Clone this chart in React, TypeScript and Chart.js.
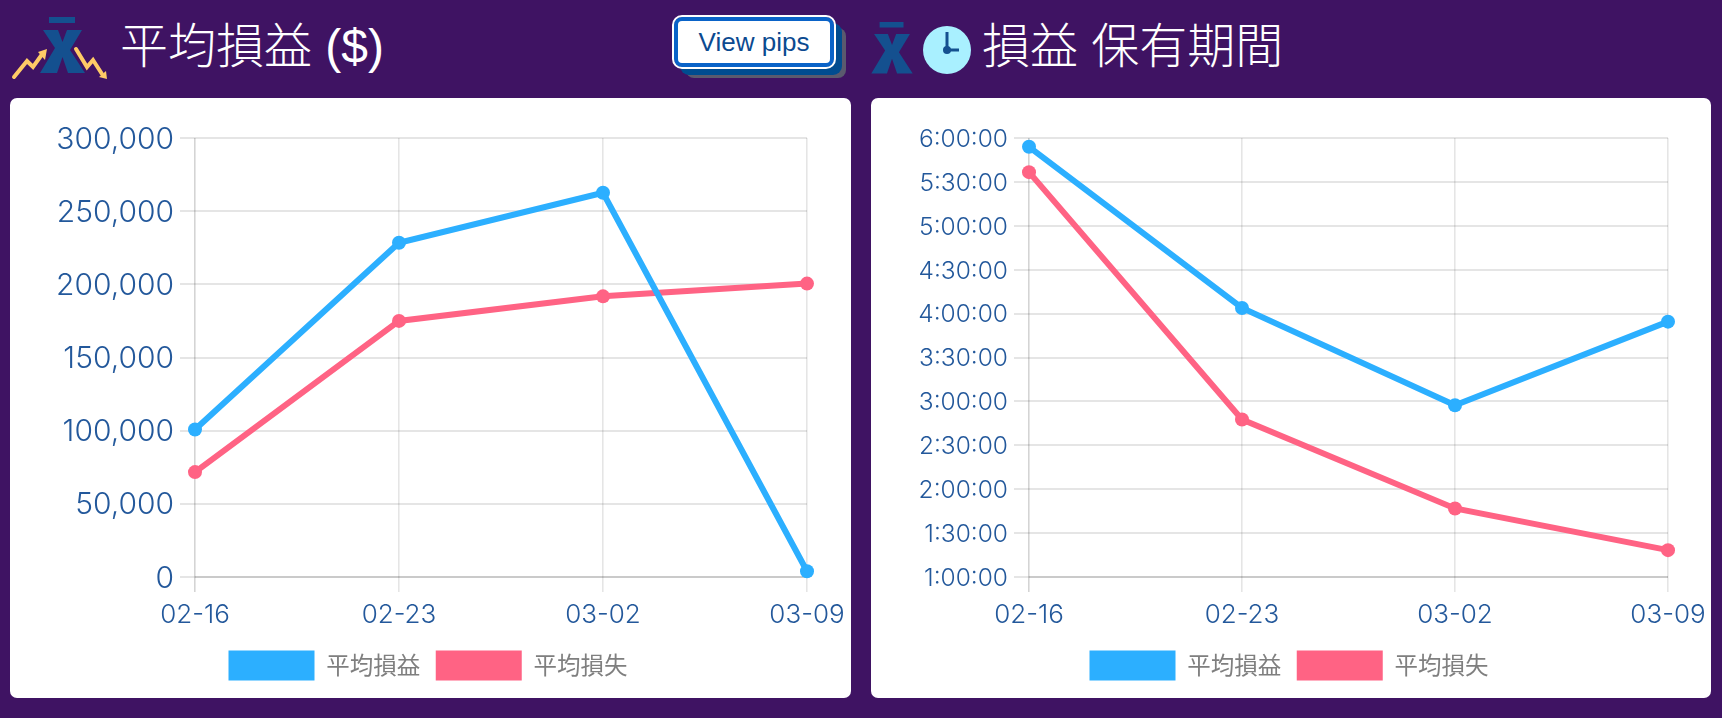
import React, { useEffect, useRef } from "react";
import { Chart, registerables } from "chart.js";

Chart.register(...registerables);

const weeks = ["02-16", "02-23", "03-02", "03-09"];
const profitLabel = "平均損益";
const lossLabel = "平均損失";
const avgProfit = [100800, 228400, 262600, 3900];
const avgLoss = [71700, 175000, 191800, 200500];
const holdProfitSec = [21240, 14630, 10640, 14070];
const holdLossSec = [20200, 10060, 6410, 4700];

const BLUE = "#2CAFFF";
const PINK = "#FF6384";
const TICK = "#23589B";
const CJK = '"Noto Sans CJK JP", "Noto Sans", sans-serif';
const LATIN = 'Inter, "Noto Sans", sans-serif';

const fmtTime = (v: number) => {
  const h = Math.floor(v / 3600);
  const m = Math.floor((v % 3600) / 60);
  return `${h}:${String(m).padStart(2, "0")}:00`;
};

type Cfg = {
  a: number[];
  b: number[];
  yMin: number;
  yMax: number;
  step: number;
  yFont: number;
  yWidth: number;
  right: number;
  fmt: (v: number) => string;
};

function LineChart({ cfg, style }: { cfg: Cfg; style: React.CSSProperties }) {
  const ref = useRef<HTMLCanvasElement>(null);
  useEffect(() => {
    const ds = (label: string, data: number[], color: string) => ({
      label,
      data,
      borderColor: color,
      backgroundColor: color,
      borderWidth: 6,
      pointRadius: 7,
      pointBorderWidth: 0,
      pointBackgroundColor: color,
      tension: 0,
      fill: false,
      clip: false as const,
    });
    const chart = new Chart(ref.current!, {
      type: "line",
      data: { labels: weeks, datasets: [ds(profitLabel, cfg.a, BLUE), ds(lossLabel, cfg.b, PINK)] },
      options: {
        animation: false,
        responsive: false,
        devicePixelRatio: 1,
        layout: { padding: { top: 40, right: cfg.right, bottom: 7.5, left: 0 } },
        plugins: {
          tooltip: { enabled: false },
          legend: {
            position: "bottom",
            labels: {
              boxWidth: 86,
              boxHeight: 30,
              padding: 15.5,
              color: "#7F7F7F",
              font: { family: CJK, size: 23.5 },
              generateLabels: (c: Chart) =>
                Chart.defaults.plugins.legend.labels.generateLabels(c).map((l: any) => ({ ...l, lineWidth: 0 })),
            },
          },
        },
        scales: {
          x: {
            type: "category",
            afterFit: (s: any) => {
              s.height = 58;
              s.paddingLeft = 0;
              s.paddingRight = 0;
            },
            grid: {
              color: (c: any) => (c.index === 0 ? "rgba(0,0,0,0.17)" : "rgba(0,0,0,0.1)"),
              lineWidth: 1.6,
              tickLength: 15,
            },
            border: { display: false },
            ticks: {
              color: TICK,
              padding: 8,
              maxRotation: 0,
              font: { family: LATIN, size: 26, weight: "300" },
            },
          },
          y: {
            min: cfg.yMin,
            max: cfg.yMax,
            afterFit: (s: any) => {
              s.width = cfg.yWidth;
            },
            grid: {
              color: "rgba(0,0,0,0.1)",
              lineWidth: 2,
              tickLength: 15,
            },
            border: { display: false },
            ticks: {
              color: TICK,
              padding: 6,
              labelOffset: 1.5,
              stepSize: cfg.step,
              autoSkip: false,
              font: { family: LATIN, size: cfg.yFont, weight: "300" },
              callback: (v: any) => cfg.fmt(Number(v)),
            },
          },
        },
      },
      plugins: [
        {
          id: "legendAndBaseline",
          afterLayout: (c: any) => {
            // the legend sits centred on the card's inner width, not on the padded box
            const shift = 19.5;
            c.legend.left += shift;
            c.legend.right += shift;
          },
          beforeDatasetsDraw: (c: Chart) => {
            const { ctx, chartArea } = c;
            ctx.save();
            ctx.strokeStyle = "rgba(0,0,0,0.12)";
            ctx.lineWidth = 2;
            ctx.beginPath();
            ctx.moveTo(chartArea.left, chartArea.bottom);
            ctx.lineTo(chartArea.right, chartArea.bottom);
            ctx.stroke();
            ctx.restore();
          },
        },
      ],
    } as any);
    return () => chart.destroy();
  }, []);
  const w = style.width as number;
  const h = style.height as number;
  return (
    <div style={{ position: "absolute", background: "#fff", borderRadius: 7, ...style }}>
      <canvas ref={ref} width={w} height={h} style={{ display: "block", width: w, height: h }} />
    </div>
  );
}

const NAVY = "#14508F";
const BarX = ({ x, y, s }: { x: number; y: number; s: number }) => (
  <g transform={`translate(${x} ${y}) scale(${s})`}>
    <rect x="5" y="0" width="26" height="6" fill={NAVY} />
    <polygon
      points="-1,13 14,13 18.5,25 23,13 38,13 26,33 41,56 24,56 18.5,40 13,56 -4,56 11,31"
      fill={NAVY}
    />
  </g>
);

const title: React.CSSProperties = {
  position: "absolute",
  top: 14,
  color: "#fff",
  fontFamily: `"Liberation Sans", ${CJK}`,
  fontSize: 48,
  fontWeight: 300,
  lineHeight: "66px",
  whiteSpace: "pre",
};

export default function App() {
  useEffect(() => {
    document.body.style.margin = "0";
    document.body.style.overflow = "hidden";
  }, []);
  return (
    <div style={{ position: "fixed", left: 0, top: 0, width: 1722, height: 718, background: "#3F1363", overflow: "hidden" }}>
      <svg width={1722} height={98} style={{ position: "absolute", left: 0, top: 0 }}>
        <BarX x={44} y={17} s={1} />
        <polyline points="14,77 27,61 33,67 43,53" fill="none" stroke="#FFCB66" strokeWidth="4" strokeLinecap="round" />
        <polygon points="47,49 38,52 45,60" fill="#FFCB66" />
        <polyline points="76,49 87,67 93,60 102,74" fill="none" stroke="#FFCB66" strokeWidth="4" strokeLinecap="round" />
        <polygon points="107,79 99,77 106,71" fill="#FFCB66" />
        <BarX x={875} y={22} s={0.92} />
        <circle cx={947} cy={50} r={24} fill="#A9F0FF" />
        <path d="M947 32 V50 H959" fill="none" stroke={NAVY} strokeWidth="3" />
        <circle cx={947} cy={50} r={4} fill={NAVY} />
      </svg>
      <div style={{ ...title, left: 120 }}>平均損益 ($)</div>
      <div style={{ ...title, left: 982 }}>損益 保有期間</div>
      <button
        style={{
          position: "absolute",
          left: 674,
          top: 17,
          width: 160,
          height: 50,
          boxSizing: "border-box",
          background: "#fff",
          border: "4px solid #0A63C8",
          outline: "2px solid #fff",
          outlineOffset: 0,
          borderRadius: 8,
          margin: 0,
          padding: 0,
          color: "#0B4A90",
          fontFamily: '"Liberation Sans", Arial, sans-serif',
          fontSize: 26,
          boxShadow: "7px 7px 0 1px #004C90, 12px 11px 0 0 #5A5A6E",
        }}
      >
        View pips
      </button>
      <LineChart
        style={{ left: 10, top: 98, width: 841, height: 600 }}
        cfg={{
          a: avgProfit,
          b: avgLoss,
          yMin: 0,
          yMax: 300000,
          step: 50000,
          yFont: 30,
          yWidth: 185,
          right: 44,
          fmt: (v) => v.toLocaleString("en-US"),
        }}
      />
      <LineChart
        style={{ left: 871, top: 98, width: 840, height: 600 }}
        cfg={{
          a: holdProfitSec,
          b: holdLossSec,
          yMin: 3600,
          yMax: 21600,
          step: 1800,
          yFont: 24.5,
          yWidth: 158,
          right: 43,
          fmt: fmtTime,
        }}
      />
    </div>
  );
}
